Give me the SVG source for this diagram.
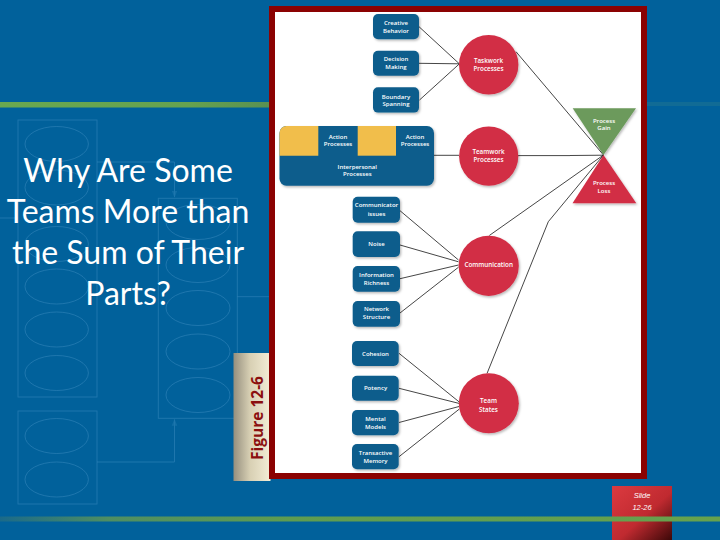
<svg xmlns="http://www.w3.org/2000/svg" width="720" height="540" viewBox="0 0 720 540">
<style>
.bg-line{fill:none;stroke:#3b8cc0;stroke-width:1;opacity:0.5}
.box{fill:#0b5d8c;filter:url(#sh)}
.circ{fill:#d22d45;filter:url(#sh)}
.lbl{font-family:"Open Sans","Liberation Sans",sans-serif;font-weight:600;font-size:6px;fill:#ffffff;text-anchor:middle;dominant-baseline:central}
.clbl{font-family:"Open Sans","Liberation Sans",sans-serif;font-weight:600;font-size:6.3px;fill:#ffffff;text-anchor:middle;dominant-baseline:central}
.title{font-family:Lato,"Liberation Sans",sans-serif;font-size:32px;fill:#ffffff;text-anchor:middle}
.conn{fill:none;stroke:#161616;stroke-width:0.8}
</style>
<defs>
<filter id="sh" x="-20%" y="-20%" width="150%" height="150%">
<feDropShadow dx="1.2" dy="1.5" stdDeviation="0.9" flood-color="#000" flood-opacity="0.28"/>
</filter>
<marker id="bgArrow" viewBox="0 0 10 10" refX="9" refY="5" markerWidth="7" markerHeight="7" orient="auto" markerUnits="userSpaceOnUse">
<path d="M0,1 L10,5 L0,9 Z" fill="#3b8cc0" opacity="0.6"/>
</marker>
<linearGradient id="tab" x1="0" y1="0" x2="1" y2="0">
<stop offset="0" stop-color="#958f7e"/>
<stop offset="0.45" stop-color="#d8d0b4"/>
<stop offset="1" stop-color="#f3edd6"/>
</linearGradient>
<linearGradient id="slide" x1="0" y1="0" x2="1" y2="1">
<stop offset="0" stop-color="#dc3a40"/>
<stop offset="0.55" stop-color="#c02a30"/>
<stop offset="1" stop-color="#3c0808"/>
</linearGradient>
<linearGradient id="greenBot" x1="0" y1="0" x2="1" y2="0">
<stop offset="0" stop-color="#1a6a8a"/>
<stop offset="0.15" stop-color="#4f8e62"/>
<stop offset="0.4" stop-color="#5f9c50"/>
<stop offset="1" stop-color="#67a24d"/>
</linearGradient>
<linearGradient id="greenTop" x1="0" y1="0" x2="1" y2="0">
<stop offset="0" stop-color="#6aa84f"/>
<stop offset="0.7" stop-color="#66a24f"/>
<stop offset="1" stop-color="#5a9152"/>
</linearGradient>
</defs>

<!-- slide background -->
<rect x="0" y="0" width="720" height="540" fill="#01619b"/>
<rect x="0" y="102" width="269" height="5.5" fill="url(#greenTop)"/>
<rect x="647" y="102" width="73" height="4" fill="#2a7a8c" opacity="0.4"/>

<!-- faint background flowchart -->
<g id="background-art">
<rect class="bg-line" x="18" y="120" width="79" height="277"/>
<ellipse class="bg-line" cx="56.7" cy="144" rx="31.7" ry="17.5"/>
<ellipse class="bg-line" cx="56.7" cy="187.5" rx="31.7" ry="17.5"/>
<ellipse class="bg-line" cx="56.7" cy="244" rx="31.7" ry="17.5"/>
<ellipse class="bg-line" cx="56.7" cy="286.5" rx="31.7" ry="17.5"/>
<ellipse class="bg-line" cx="56.7" cy="329.5" rx="31.7" ry="17.5"/>
<ellipse class="bg-line" cx="56.7" cy="373" rx="31.7" ry="17.5"/>
<rect class="bg-line" x="18" y="411" width="79" height="93"/>
<ellipse class="bg-line" cx="56.7" cy="436" rx="31.7" ry="17.5"/>
<ellipse class="bg-line" cx="56.7" cy="479.5" rx="31.7" ry="17.5"/>
<rect class="bg-line" x="158.3" y="198.3" width="79" height="220"/>
<ellipse class="bg-line" cx="198" cy="222" rx="32" ry="17.5"/>
<ellipse class="bg-line" cx="198" cy="265" rx="32" ry="17.5"/>
<ellipse class="bg-line" cx="198" cy="308" rx="32" ry="17.5"/>
<ellipse class="bg-line" cx="198" cy="351.5" rx="32" ry="17.5"/>
<ellipse class="bg-line" cx="198" cy="395" rx="32" ry="17.5"/>
<path class="bg-line" d="M97,162 H174.5 V197" marker-end="url(#bgArrow)"/>
<path class="bg-line" d="M97,462 H174.5 V419.5" marker-end="url(#bgArrow)"/>
<path class="bg-line" d="M237.3,296.7 H270"/>
<path class="bg-line" d="M0,218 H18"/>
</g>

<!-- title -->
<g id="title">
<text class="title" x="128" y="182">Why Are Some</text>
<text class="title" x="128" y="223">Teams More than</text>
<text class="title" x="128" y="264">the Sum of Their</text>
<text class="title" x="128" y="305">Parts?</text>
</g>

<!-- figure tab -->
<g id="figure-tab">
<rect x="233.5" y="353" width="37" height="128" fill="url(#tab)"/>
<text transform="rotate(-90 257 418)" x="257" y="418" font-family="'Open Sans','Liberation Sans',sans-serif" font-weight="700" font-size="15.5px" fill="#8b0f0f" text-anchor="middle" dominant-baseline="central">Figure 12-6</text>
</g>

<!-- frame -->
<rect x="272" y="9" width="372" height="467" fill="#ffffff" stroke="#8b0202" stroke-width="6"/>

<!-- slide number -->
<g id="slide-number">
<rect x="612" y="486" width="60" height="54" fill="url(#slide)"/>
<text x="642" y="495.5" font-family="'Liberation Sans',sans-serif" font-style="italic" font-size="7.5px" fill="#ffffff" text-anchor="middle" dominant-baseline="central">Slide</text>
<text x="642" y="507" font-family="'Liberation Sans',sans-serif" font-style="italic" font-size="7.5px" fill="#ffffff" text-anchor="middle" dominant-baseline="central">12-26</text>
</g>
<rect x="0" y="516.5" width="720" height="5" fill="url(#greenBot)"/>

<!-- connectors -->
<g id="connectors">
<line class="conn" x1="419" y1="26.7" x2="459" y2="63.5"/>
<line class="conn" x1="419" y1="63.3" x2="459" y2="63.8" stroke-width="1.4"/>
<line class="conn" x1="419.5" y1="100" x2="459" y2="64.2"/>
<line class="conn" x1="516" y1="51.7" x2="603.5" y2="155"/>
<line class="conn" x1="434" y1="155.3" x2="459" y2="155.3" stroke-width="2.2"/>
<line class="conn" x1="518" y1="155.6" x2="570" y2="155.6" stroke-width="2"/>
<line class="conn" x1="570" y1="155.5" x2="603.5" y2="155.2" stroke="#666" stroke-width="1"/>
<line class="conn" x1="400" y1="210.7" x2="458.5" y2="260"/>
<line class="conn" x1="400" y1="245" x2="458.5" y2="261.8"/>
<line class="conn" x1="400" y1="278.7" x2="458.5" y2="265"/>
<line class="conn" x1="400" y1="313" x2="458.5" y2="267.2"/>
<line class="conn" x1="489.3" y1="235.5" x2="603.5" y2="155"/>
<polyline class="conn" points="487,373.5 548.3,221.7 603.5,155"/>
<line class="conn" x1="399" y1="353.3" x2="459" y2="401.8"/>
<line class="conn" x1="399" y1="388.3" x2="459" y2="403.4"/>
<line class="conn" x1="399" y1="422.5" x2="459" y2="406.5"/>
<line class="conn" x1="399" y1="456.7" x2="459" y2="409.3"/>
</g>

<!-- triangles -->
<g id="process-gain">
<polygon points="572.7,108.3 636,108.3 603.5,155" fill="#6c9a5c" filter="url(#sh)"/>
<text class="lbl" x="604" y="120.7">Process</text>
<text class="lbl" x="604" y="128.3">Gain</text>
</g>
<g id="process-loss">
<polygon points="603.5,155 636.3,203.3 572.5,203.3" fill="#d22d45" filter="url(#sh)"/>
<text class="lbl" x="604" y="183.3">Process</text>
<text class="lbl" x="604" y="191">Loss</text>
</g>

<!-- taskwork inputs -->
<g id="creative-behavior">
<rect class="box" x="373" y="14" width="46" height="25.3" rx="5"/>
<text class="lbl" x="396" y="22.7">Creative</text>
<text class="lbl" x="396" y="30.7">Behavior</text>
</g>
<g id="decision-making">
<rect class="box" x="373" y="50.7" width="46" height="25" rx="5"/>
<text class="lbl" x="396" y="59.3">Decision</text>
<text class="lbl" x="396" y="66.9">Making</text>
</g>
<g id="boundary-spanning">
<rect class="box" x="373" y="87.3" width="46" height="25.3" rx="5"/>
<text class="lbl" x="396" y="96.5">Boundary</text>
<text class="lbl" x="396" y="104.2">Spanning</text>
</g>

<!-- interpersonal / action processes -->
<g id="interpersonal-processes">
<rect class="box" x="279.5" y="126" width="154.5" height="59.7" rx="7"/>
<path d="M279.5,155.7 V133 A7,7 0 0 1 286.5,126 H318.3 V155.7 Z" fill="#f1be4b"/>
<rect x="357.7" y="126" width="38.3" height="29.7" fill="#f1be4b"/>
<text class="lbl" x="338" y="136.7">Action</text>
<text class="lbl" x="338" y="144.3">Processes</text>
<text class="lbl" x="415" y="136.7">Action</text>
<text class="lbl" x="415" y="144.3">Processes</text>
<text class="lbl" x="357.3" y="166.5">Interpersonal</text>
<text class="lbl" x="357.3" y="174.2">Processes</text>
</g>

<!-- communication inputs -->
<g id="communicator-issues">
<rect class="box" x="352.7" y="196.7" width="47.3" height="26" rx="5"/>
<text class="lbl" x="376.5" y="205">Communicator</text>
<text class="lbl" x="376.5" y="214" font-size="5px">issues</text>
</g>
<g id="noise">
<rect class="box" x="352.7" y="231.3" width="47.3" height="25.7" rx="5"/>
<text class="lbl" x="376.5" y="244">Noise</text>
</g>
<g id="information-richness">
<rect class="box" x="352.7" y="266" width="47.3" height="25.7" rx="5"/>
<text class="lbl" x="376.5" y="275">Information</text>
<text class="lbl" x="376.5" y="282.5">Richness</text>
</g>
<g id="network-structure">
<rect class="box" x="352.7" y="301" width="47.3" height="25.7" rx="5"/>
<text class="lbl" x="376.5" y="309.3">Network</text>
<text class="lbl" x="376.5" y="316.8">Structure</text>
</g>

<!-- team state inputs -->
<g id="cohesion">
<rect class="box" x="352" y="341" width="46.7" height="25" rx="5"/>
<text class="lbl" x="375.5" y="354">Cohesion</text>
</g>
<g id="potency">
<rect class="box" x="352" y="375.7" width="46.7" height="25" rx="5"/>
<text class="lbl" x="375.5" y="388.3">Potency</text>
</g>
<g id="mental-models">
<rect class="box" x="352" y="410" width="46.7" height="25.3" rx="5"/>
<text class="lbl" x="375.5" y="419">Mental</text>
<text class="lbl" x="375.5" y="426.7">Models</text>
</g>
<g id="transactive-memory">
<rect class="box" x="352" y="444" width="46.7" height="25.3" rx="5"/>
<text class="lbl" x="375.5" y="453.3">Transactive</text>
<text class="lbl" x="375.5" y="461">Memory</text>
</g>

<!-- circles -->
<g id="taskwork-processes">
<circle class="circ" cx="488.7" cy="64.7" r="29.7"/>
<text class="clbl" x="488.5" y="60.6">Taskwork</text>
<text class="clbl" x="488.5" y="68.1">Processes</text>
</g>
<g id="teamwork-processes">
<circle class="circ" cx="488.7" cy="156.2" r="29.6"/>
<text class="clbl" x="488.5" y="151.6">Teamwork</text>
<text class="clbl" x="488.5" y="159.4">Processes</text>
</g>
<g id="communication">
<circle class="circ" cx="488.7" cy="265.8" r="30.1"/>
<text class="clbl" x="488.7" y="264">Communication</text>
</g>
<g id="team-states">
<circle class="circ" cx="488.8" cy="403.3" r="30"/>
<text class="clbl" x="488.5" y="400.6">Team</text>
<text class="clbl" x="488.5" y="409.1">States</text>
</g>
</svg>
